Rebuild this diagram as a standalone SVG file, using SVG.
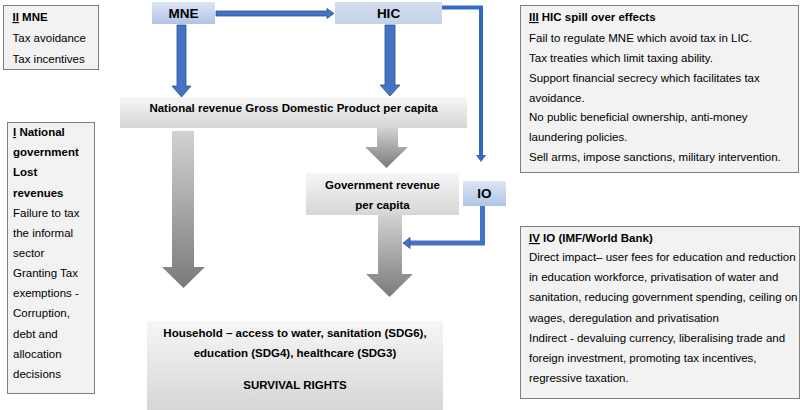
<svg xmlns="http://www.w3.org/2000/svg" width="800" height="410" viewBox="0 0 800 410">
<style>
text{font-family:"Liberation Sans",Arial,sans-serif;fill:#000}
.b{font-weight:bold;font-size:11.5px}
.nb{font-weight:bold;font-size:13.5px}
.r{font-size:11.5px}
.tb{fill:#f2f2f2;stroke:#7f7f7f;stroke-width:1}
.ba{fill:#4472c4;stroke:#2f528f;stroke-width:0.8}
.ga{fill:url(#gg);stroke:none}
.u{text-decoration:underline}
</style>
<defs>
<linearGradient id="gb" x1="0" y1="0" x2="0" y2="1"><stop offset="0" stop-color="#dde6f4"/><stop offset="1" stop-color="#b0c4e6"/></linearGradient>
<linearGradient id="gh" x1="0" y1="0" x2="0" y2="1"><stop offset="0" stop-color="#d3deed"/><stop offset="1" stop-color="#c3d2e8"/></linearGradient>
<linearGradient id="gw" x1="0" y1="0" x2="0" y2="1"><stop offset="0" stop-color="#f6f6f6"/><stop offset="1" stop-color="#d6d6d6"/></linearGradient>
<linearGradient id="gg" x1="0" y1="0" x2="0" y2="1"><stop offset="0" stop-color="#d2d2d2"/><stop offset="1" stop-color="#7a7a7a"/></linearGradient>
</defs>

<g id="connectors">
<polygon class="ba" points="216,11 327,11 327,8.5 334,13.5 327,18.5 327,16 216,16"/>
<polygon class="ba" points="177,25 186,25 186,86 191,86 181.5,97 172,86 177,86"/>
<polygon class="ba" points="385,25 395,25 395,85 400,85 390,96 380,85 385,85"/>
<polyline points="442,7.5 481,7.5 481,156" fill="none" stroke="#2f6cc0" stroke-width="4"/>
<polygon points="476,155 486,155 481,162" fill="#2f6cc0"/>
<polyline points="482.5,206 482.5,243 409,243" fill="none" stroke="#4472c4" stroke-width="5"/>
<polygon class="ba" points="410,237.5 410,248.5 403,243"/>
<polygon class="ga" points="172,131 194,131 194,267 205,267 183.5,288 162,267 172,267"/>
<polygon class="ga" points="377,128 398,128 398,147 408,147 386.5,168 365,147 377,147"/>
<polygon class="ga" points="378,215 402,215 402,274 413,274 389.5,297 366,274 378,274"/>
</g>

<g id="mne"><rect x="152" y="2" width="63" height="22" fill="url(#gb)"/><text class="nb" x="183.5" y="18" text-anchor="middle">MNE</text></g>
<g id="hic"><rect x="335" y="2" width="107" height="22" fill="url(#gh)"/><text class="nb" x="388.5" y="18" text-anchor="middle">HIC</text></g>
<g id="national"><rect x="120" y="97" width="347" height="31" fill="url(#gw)"/><text class="b" x="293.5" y="112" text-anchor="middle">National revenue Gross Domestic Product per capita</text></g>
<g id="government"><rect x="306" y="173" width="153" height="42" fill="url(#gw)"/><text class="b" x="382.5" y="189" text-anchor="middle">Government revenue</text><text class="b" x="382.5" y="209" text-anchor="middle">per capita</text></g>
<g id="io"><rect x="463" y="181" width="43" height="25" fill="url(#gb)"/><text class="nb" x="484.5" y="198" text-anchor="middle">IO</text></g>
<g id="household"><rect x="147" y="321" width="296" height="89" fill="url(#gw)"/>
<text class="b" x="295" y="337" text-anchor="middle">Household – access to water, sanitation (SDG6),</text>
<text class="b" x="295" y="357" text-anchor="middle">education (SDG4), healthcare (SDG3)</text>
<text class="b" x="295" y="389" text-anchor="middle">SURVIVAL RIGHTS</text></g>

<g id="box-ii"><rect class="tb" x="3.5" y="5.5" width="95" height="64"/>
<text class="b" x="12.5" y="21"><tspan class="u">II</tspan> MNE</text>
<text class="r" x="12.5" y="42">Tax avoidance</text>
<text class="r" x="12.5" y="63">Tax incentives</text></g>

<g id="box-i"><rect class="tb" x="7.5" y="122.5" width="87" height="271"/>
<text class="b" x="13" y="136"><tspan class="u">I</tspan> National</text>
<text class="b" x="13" y="156">government</text>
<text class="b" x="13" y="176">Lost</text>
<text class="b" x="13" y="197">revenues</text>
<text class="r" x="13" y="217">Failure to tax</text>
<text class="r" x="13" y="237">the informal</text>
<text class="r" x="13" y="257">sector</text>
<text class="r" x="13" y="277">Granting Tax</text>
<text class="r" x="13" y="297">exemptions -</text>
<text class="r" x="13" y="317">Corruption,</text>
<text class="r" x="13" y="338">debt and</text>
<text class="r" x="13" y="358">allocation</text>
<text class="r" x="13" y="378">decisions</text></g>

<g id="box-iii"><rect class="tb" x="520.5" y="5.5" width="278" height="167"/>
<text class="b" x="529" y="21"><tspan class="u">III</tspan> HIC spill over effects</text>
<text class="r" x="529" y="42">Fail to regulate MNE which avoid tax in LIC.</text>
<text class="r" x="529" y="62">Tax treaties which limit taxing ability.</text>
<text class="r" x="529" y="82">Support financial secrecy which facilitates tax</text>
<text class="r" x="529" y="102">avoidance.</text>
<text class="r" x="529" y="121">No public beneficial ownership, anti-money</text>
<text class="r" x="529" y="141">laundering policies.</text>
<text class="r" x="529" y="161">Sell arms, impose sanctions, military intervention.</text></g>

<g id="box-iv"><rect class="tb" x="520.5" y="226.5" width="279" height="172"/>
<text class="b" x="529" y="242"><tspan class="u">IV</tspan> IO (IMF/World Bank)</text>
<text class="r" x="529" y="261">Direct impact– user fees for education and reduction</text>
<text class="r" x="529" y="281">in education workforce, privatisation of water and</text>
<text class="r" x="529" y="301">sanitation, reducing government spending, ceiling on</text>
<text class="r" x="529" y="322">wages, deregulation and privatisation</text>
<text class="r" x="529" y="342">Indirect - devaluing currency, liberalising trade and</text>
<text class="r" x="529" y="362">foreign investment, promoting tax incentives,</text>
<text class="r" x="529" y="382">regressive taxation.</text></g>
</svg>
